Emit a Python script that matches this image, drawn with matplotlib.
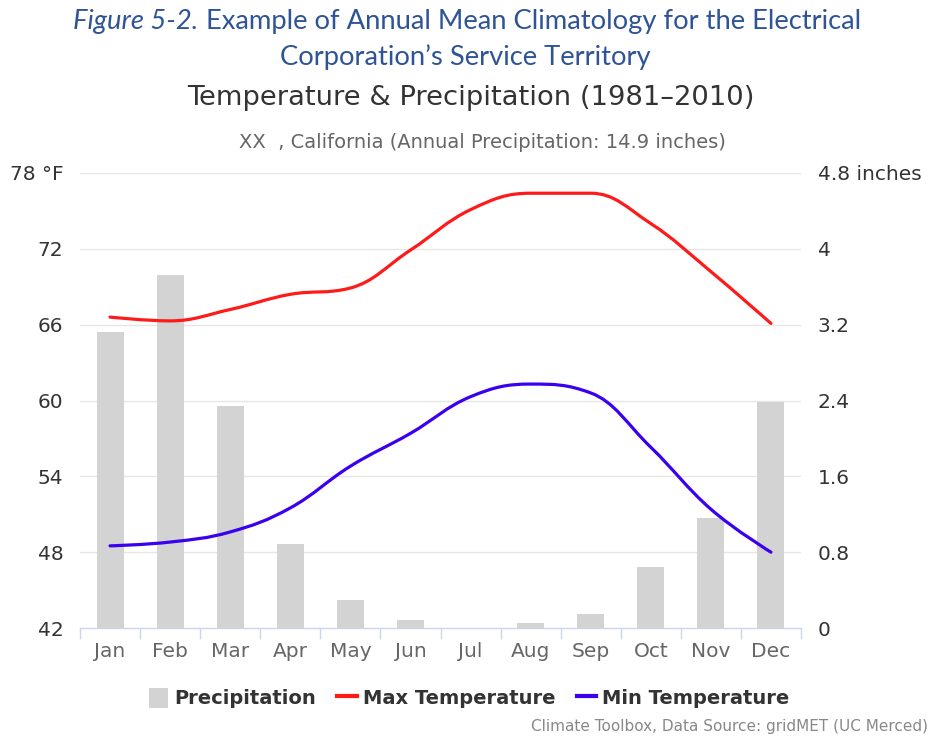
import numpy as np
import matplotlib
matplotlib.use('agg')
import matplotlib.pyplot as plt
from matplotlib.path import Path
from matplotlib.patches import PathPatch, Patch
from matplotlib.lines import Line2D

plt.rcParams['font.family'] = ['DejaVu Sans']

months = ['Jan', 'Feb', 'Mar', 'Apr', 'May', 'Jun', 'Jul', 'Aug', 'Sep', 'Oct', 'Nov', 'Dec']
precip = [3.12, 3.72, 2.34, 0.89, 0.30, 0.08, 0.0, 0.05, 0.15, 0.64, 1.16, 2.38]
tmax = [66.6, 66.3, 67.2, 68.4, 68.9, 71.9, 75.1, 76.4, 76.4, 74.0, 70.2, 66.1]
tmin = [48.5, 48.8, 49.6, 51.5, 54.8, 57.4, 60.3, 61.3, 60.6, 56.3, 51.4, 48.0]
temp_ticks = [42, 48, 54, 60, 66, 72, 78]
precip_ticks = [0, 0.8, 1.6, 2.4, 3.2, 4.0, 4.8]
precip_labels = ['0', '0.8', '1.6', '2.4', '3.2', '4', '4.8 inches']

W, H = 933, 738
fig = plt.figure(figsize=(W / 100, H / 100), dpi=100)

x = np.arange(len(months))
ax = fig.add_axes([80 / W, 1 - 628 / H, 721 / W, (628 - 173) / H])
axp = ax.twinx()
ax.set_zorder(2)
axp.set_zorder(1)
ax.patch.set_visible(False)

# bars (precip)
axp.bar(x, precip, width=0.45, color='#d3d3d3', zorder=2)
axp.set_ylim(0, 4.8)
axp.set_yticks(precip_ticks)
axp.set_yticklabels(precip_labels)
axp.tick_params(axis='y', length=0, pad=12, labelsize=14.5, labelcolor='#333333')

for v in temp_ticks[1:]:
    axp.axhline((v - 42) / 36 * 4.8, color='#e6e6e6', lw=1, zorder=0)


def spline(xs, ys):
    # highcharts style spline through the points
    sm, den = 1.5, 2.5
    n = len(xs)
    verts = [(xs[0], ys[0])]
    codes = [Path.MOVETO]
    lc = [None] * n
    rc = [None] * n
    for i in range(1, n - 1):
        lx = (sm * xs[i] + xs[i - 1]) / den
        ly = (sm * ys[i] + ys[i - 1]) / den
        rx = (sm * xs[i] + xs[i + 1]) / den
        ry = (sm * ys[i] + ys[i + 1]) / den
        if rx != lx:
            corr = (ry - ly) * (rx - xs[i]) / (rx - lx) + ys[i] - ry
            ly += corr
            ry += corr
        if ly > max(ys[i - 1], ys[i]) or ly < min(ys[i - 1], ys[i]):
            ly = max(min(ly, max(ys[i - 1], ys[i])), min(ys[i - 1], ys[i]))
            ry = 2 * ys[i] - ly
        if ry > max(ys[i + 1], ys[i]) or ry < min(ys[i + 1], ys[i]):
            ry = max(min(ry, max(ys[i + 1], ys[i])), min(ys[i + 1], ys[i]))
            ly = 2 * ys[i] - ry
        lc[i] = (lx, ly)
        rc[i] = (rx, ry)
    for i in range(1, n):
        c1 = rc[i - 1] if rc[i - 1] is not None else (xs[i - 1], ys[i - 1])
        c2 = lc[i] if lc[i] is not None else (xs[i], ys[i])
        verts += [c1, c2, (xs[i], ys[i])]
        codes += [Path.CURVE4] * 3
    return Path(verts, codes)


ax.add_patch(PathPatch(spline(x, tmax), fill=False, edgecolor='#ff1a1a', lw=2.3,
                       capstyle='round', zorder=3))
ax.add_patch(PathPatch(spline(x, tmin), fill=False, edgecolor='#3a00f0', lw=2.3,
                       capstyle='round', zorder=3))

ax.set_xlim(-0.5, 11.5)
ax.set_ylim(42, 78)
ax.set_yticks(temp_ticks)
ax.set_yticklabels([str(t) for t in temp_ticks[:-1]] + ['78 °F'])
ax.tick_params(axis='y', length=0, pad=12, labelsize=14.5, labelcolor='#333333')

ax.set_xticks(x)
ax.set_xticklabels(months)
ax.set_xticks(np.arange(-0.5, 12, 1), minor=True)
ax.tick_params(axis='x', which='major', length=0, pad=10, labelsize=14.5, labelcolor='#666666')
ax.tick_params(axis='x', which='minor', length=8, width=1, color='#ccd6eb', direction='out')

for a in (ax, axp):
    for s in a.spines.values():
        s.set_visible(False)
ax.spines['bottom'].set_visible(True)
ax.spines['bottom'].set_color('#ccd6eb')
ax.spines['bottom'].set_linewidth(1)

# titles
r = fig.canvas.get_renderer()
tfont = ['Lato', 'DejaVu Sans']
tcol = '#2f5496'
ty = 1 - 21 / H
t1 = fig.text(0, ty, 'Figure 5-2.', fontsize=19.7, style='italic', color=tcol,
              family=tfont, va='center')
t2 = fig.text(0, ty, ' Example of Annual Mean Climatology for the Electrical', fontsize=19.7,
              color=tcol, family=tfont, va='center')
w1 = t1.get_window_extent(r).width
w2 = t2.get_window_extent(r).width
x0 = (467 - (w1 + w2) / 2) / W
t1.set_x(x0)
t2.set_x(x0 + w1 / W)
fig.text(465 / W, 1 - 57 / H, 'Corporation’s Service Territory', fontsize=19.7, color=tcol,
         family=tfont, ha='center', va='center')

fig.text(471 / W, 1 - 98 / H, 'Temperature & Precipitation (1981–2010)', fontsize=19.7,
         color='#333333', ha='center', va='center')
fig.text(482 / W, 1 - 143 / H, 'XX  , California (Annual Precipitation: 14.9 inches)',
         fontsize=14, color='#666666', ha='center', va='center')

handles = [Patch(facecolor='#d3d3d3', edgecolor='none'),
           Line2D([], [], color='#ff1a1a', lw=3),
           Line2D([], [], color='#3a00f0', lw=3)]
leg = fig.legend(handles, ['Precipitation', 'Max Temperature', 'Min Temperature'],
                 loc='center', bbox_to_anchor=(469 / W, 1 - 698 / H), ncol=3, frameon=False,
                 handlelength=1.0, handleheight=1.2, handletextpad=0.3, columnspacing=1.1,
                 prop={'size': 14, 'weight': 'bold'})
for t in leg.get_texts():
    t.set_color('#333333')

fig.text(928 / W, 1 - 727 / H, 'Climate Toolbox, Data Source: gridMET (UC Merced)',
         fontsize=11, color='#888888', ha='right', va='center')

fig.savefig('out.png', dpi=100)
